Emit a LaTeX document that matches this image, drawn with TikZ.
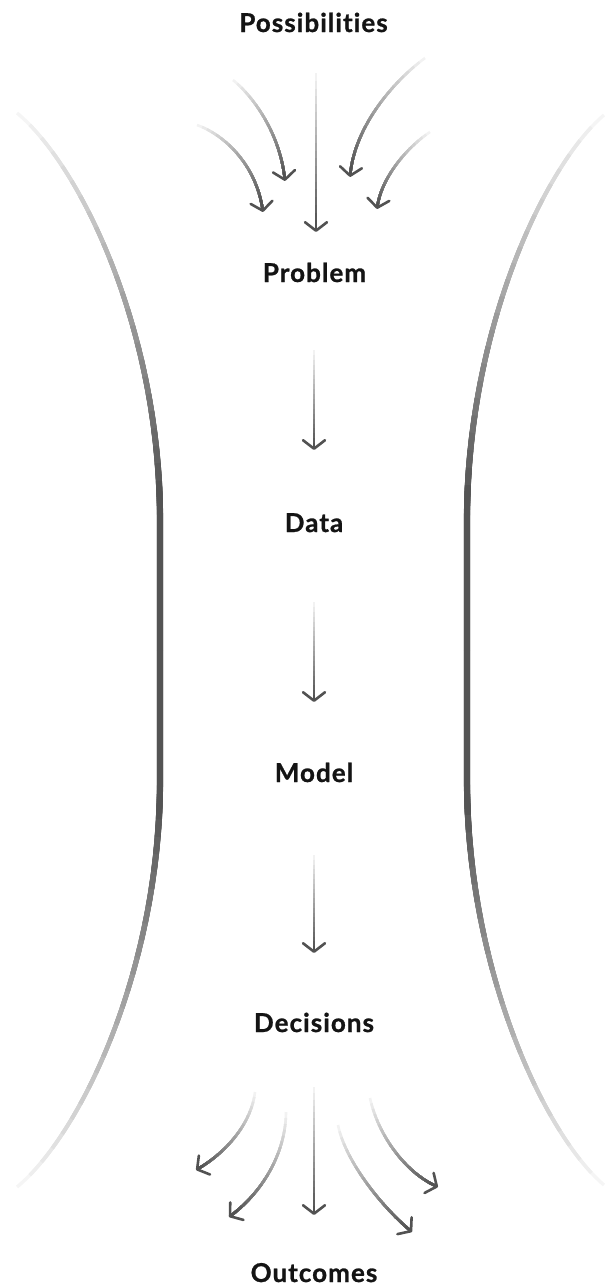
\documentclass[tikz,border=0pt]{standalone}
\usepackage{fontspec}
\newfontfamily\stagefont{Lato}[LetterSpace=4, Ligatures={NoCommon,NoDiscretionary},
  BoldFeatures={FakeBold=0.9}]
\usetikzlibrary{arrows.meta}

\tikzset{
  stagelabel/.style={anchor=base, inner sep=0pt, text=black!92,
    font=\stagefont\bfseries\fontsize{26}{30}\selectfont},
  shaft/.style={line width=2.6pt, line cap=butt},
  bartip/.style={-{Straight Barb[length=8.5pt,width=22pt,round]}},
}

% A stroke that darkens from its tail to its head: the same path is laid
% down in layers, each later layer darker and dashed so that it starts
% further along the path.
\newcommand\fadearrow[2]{%
  \foreach \k in {0,...,19}{%
    \pgfmathsetlengthmacro\off{#2*\k/20}%
    \pgfmathsetmacro\shade{5+63*\k/19}%
    \ifnum\k=19
      \draw[shaft, bartip, draw=black!\shade,
        dash pattern=on 0pt off \off on 3000pt off 1pt] #1;
    \else
      \draw[shaft, shorten >=2.5pt, draw=black!\shade,
        dash pattern=on 0pt off \off on 3000pt off 1pt] #1;
    \fi
  }%
}

% One half of a side bracket: light and thin at the open end,
% dark and full width towards the middle.
\newcommand\fadebar[1]{%
  \foreach \k in {0,...,23}{%
    \pgfmathsetlengthmacro\off{420pt*\k/24}%
    \pgfmathsetmacro\shade{4+63*\k/23}%
    \pgfmathsetlengthmacro\wd{3.4pt+2.8pt*\k/23}%
    \draw[line cap=butt, line width=\wd, draw=black!\shade,
      dash pattern=on 0pt off \off on 3000pt off 1pt] #1;
  }%
}

\begin{document}
\begin{tikzpicture}[x=1pt, y=-1pt]
\useasboundingbox (0,0) rectangle (606,1288);

% stage labels
\node[stagelabel] (poss)  at (313.5,32)  {Possibilities};
\node[stagelabel] (prob)  at (314.5,282) {Problem};
\node[stagelabel] (data)  at (314,532)   {Data};
\node[stagelabel] (model) at (314,782)   {Model};
\node[stagelabel] (dec)   at (314,1032)  {Decisions};
\node[stagelabel] (outc)  at (314,1282)  {Outcomes};

% side brackets
\coordinate (lt) at (17,113);   \coordinate (lb) at (17,1187);
\coordinate (lm) at (160,650);
\coordinate (rt) at (604,115);  \coordinate (rb) at (604,1185);
\coordinate (rm) at (467,650);
\fadebar{(lt) .. controls (80,165) and (160,330) .. (160,520) -- (lm)}
\fadebar{(lb) .. controls (80,1135) and (160,970) .. (160,780) -- (lm)}
\fadebar{(rt) .. controls (545,165) and (467,330) .. (467,520) -- (rm)}
\fadebar{(rb) .. controls (545,1135) and (467,970) .. (467,780) -- (rm)}

% possibilities converging on the problem
\coordinate (p0s) at (316,73);  \coordinate (p0e) at (316,232);
\coordinate (p1s) at (197,125); \coordinate (p1e) at (263,212);
\coordinate (p2s) at (233,80);  \coordinate (p2e) at (285,181);
\coordinate (p3s) at (425,58);  \coordinate (p3e) at (350,177);
\coordinate (p4s) at (430,132); \coordinate (p4e) at (377,209);
\fadearrow{(p0s) -- (p0e)}{155pt}
\fadearrow{(p1s) .. controls (225,135) and (256,165) .. (p1e)}{108pt}
\fadearrow{(p2s) .. controls (255,98) and (280,135) .. (p2e)}{113pt}
\fadearrow{(p3s) .. controls (395,80) and (355,125) .. (p3e)}{140pt}
\fadearrow{(p4s) .. controls (410,145) and (382,175) .. (p4e)}{94pt}

% the chain from problem to decisions
\coordinate (a1s) at (314,350); \coordinate (a1e) at (314,450);
\coordinate (a2s) at (314,602); \coordinate (a2e) at (314,702);
\coordinate (a3s) at (314,855); \coordinate (a3e) at (314,953);
\fadearrow{(a1s) -- (a1e)}{98pt}
\fadearrow{(a2s) -- (a2e)}{98pt}
\fadearrow{(a3s) -- (a3e)}{96pt}

% decisions spreading into outcomes
\coordinate (o0s) at (314,1087); \coordinate (o0e) at (314,1215);
\coordinate (o1s) at (255,1092); \coordinate (o1e) at (196,1170);
\coordinate (o2s) at (286,1112); \coordinate (o2e) at (229,1217);
\coordinate (o3s) at (338,1125); \coordinate (o3e) at (412,1232);
\coordinate (o4s) at (370,1098); \coordinate (o4e) at (438,1187);
\fadearrow{(o0s) -- (o0e)}{125pt}
\fadearrow{(o1s) .. controls (252,1120) and (230,1150) .. (o1e)}{98pt}
\fadearrow{(o2s) .. controls (286,1150) and (265,1190) .. (o2e)}{119pt}
\fadearrow{(o3s) .. controls (345,1160) and (380,1205) .. (o3e)}{130pt}
\fadearrow{(o4s) .. controls (378,1135) and (405,1172) .. (o4e)}{112pt}
\end{tikzpicture}
\end{document}
